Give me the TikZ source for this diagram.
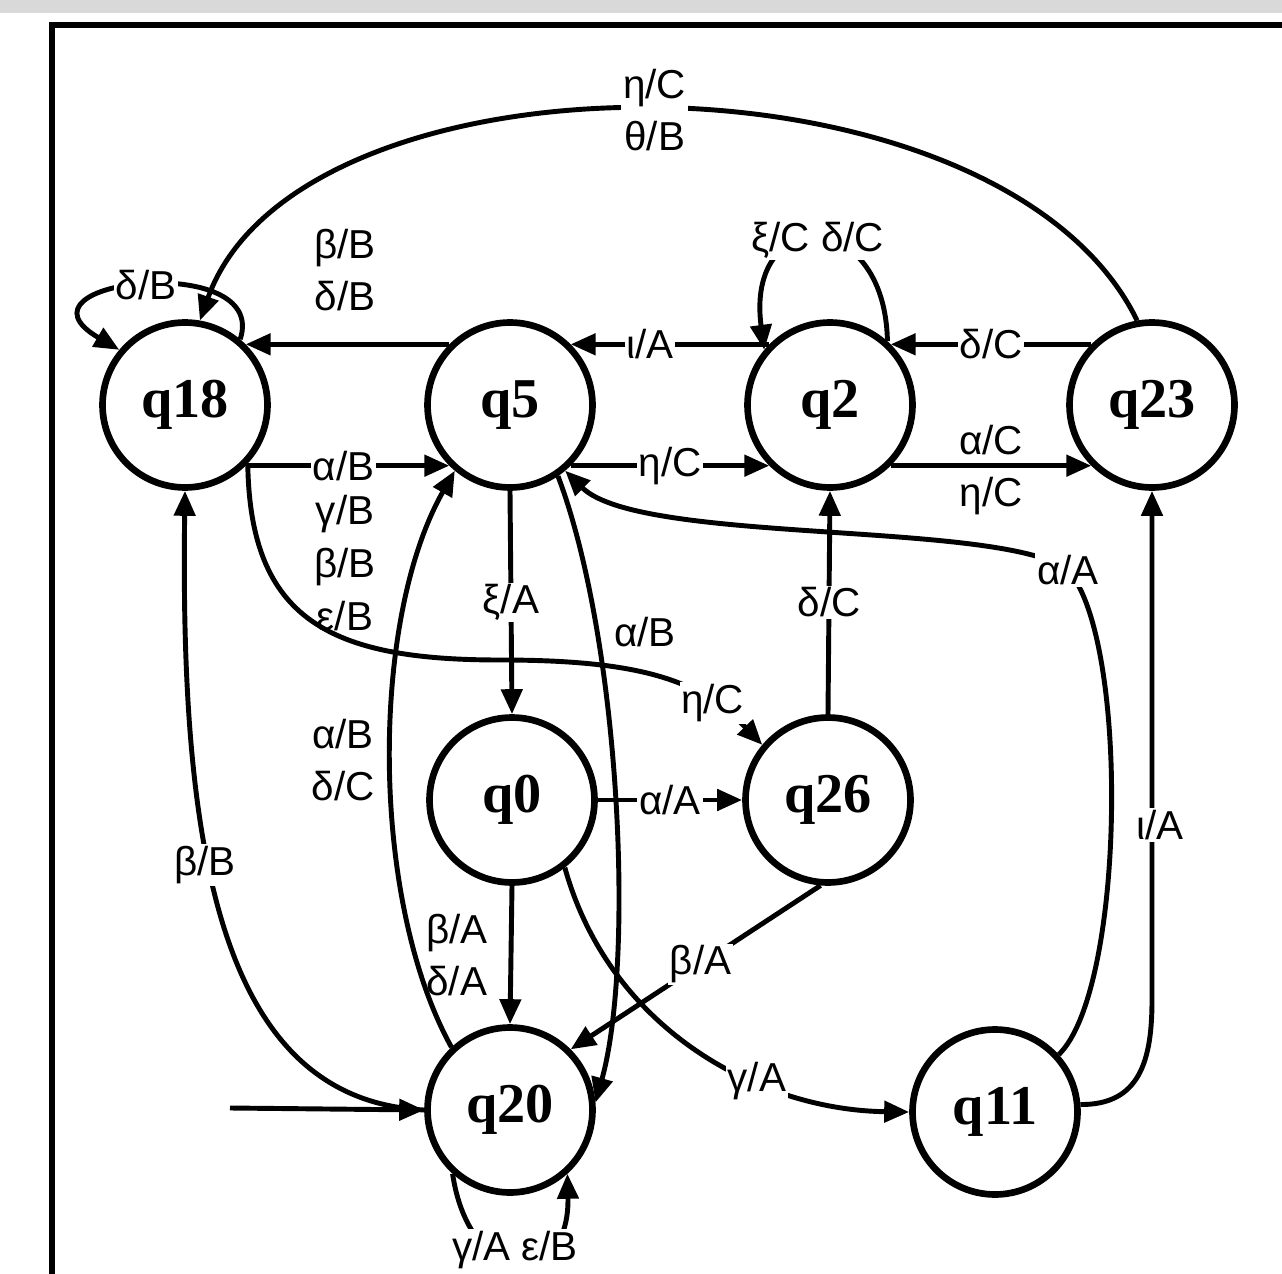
\documentclass[tikz,border=0pt]{standalone}
\usepackage{fontspec}
\setmainfont{Liberation Serif}
\newfontfamily\labfont{Liberation Sans}
\usetikzlibrary{arrows.meta}
\begin{document}
\begin{tikzpicture}[x=0.02cm, y=-0.02cm,
  st/.style={circle, draw, line width=3.8pt, minimum size=3.3cm, inner sep=0pt,
             font=\fontsize{32}{36}\selectfont\bfseries},
  tr/.style={line width=2.8pt, -{Triangle[length=0.5cm,width=0.42cm]}},
  lab/.style={font=\labfont\fontsize{23}{30}\selectfont, inner sep=1pt, align=center},
  cut/.style={lab, fill=white}]
\useasboundingbox (0,0) rectangle (1282,1274);
\fill[gray!30] (0,0) rectangle (1282,13);
\draw[line width=3.5pt] (52,1280) -- (52,25) -- (1290,25);

\node[st] (q18) at (185,405) {q18};
\node[st] (q5)  at (510,405) {q5};
\node[st] (q2)  at (830,405) {q2};
\node[st] (q23) at (1152,405) {q23};
\node[st] (q0)  at (512,800) {q0};
\node[st] (q26) at (828,800) {q26};
\node[st] (q20) at (510,1110) {q20};
\node[st] (q11) at (995,1112) {q11};

% q23 -> q18 top arc
\draw[tr] (q23.100) .. controls (1000,40) and (300,40) .. node[cut] (l1) {η/C\\θ/B} (q18.80);
% q18 self loop
\draw[tr] (q18.50) .. controls (270,250) and (0,280) .. node[cut] (l2) {δ/B} (q18.140);
% q5 -> q18
\draw[tr] (q5.135) -- (q18.45);
\node[lab] (l3) at (345,270) {β/B\\δ/B};
% q18 -> q5
\draw[tr] (q18.-45) -- node[cut,pos=0.48] (l4) {α/B} (q5.-135);
\node[lab] (l4b) at (345,563) {γ/B\\β/B\\ε/B};
% q18 -> q26
\draw[tr] (q18.-43) .. controls (250,620) and (330,660) .. (500,660)
   .. controls (640,660) and (700,680) .. node[cut,pos=0.74] (l5) {η/C} (q26.140);
% q2 -> q5
\draw[tr] (q2.135) -- node[cut,pos=0.6] (l6) {ι/A} (q5.45);
% q2 self loop
\draw[tr] (q2.48) .. controls (885,205) and (745,205) .. node[cut] (l7) {ξ/C δ/C} (q2.140);
% q23 -> q2
\draw[tr] (q23.135) -- node[cut] (l8) {δ/C} (q2.45);
% q5 -> q2
\draw[tr] (q5.-45) -- node[cut] (l9) {η/C} (q2.-135);
% q2 -> q23
\draw[tr] (q2.-45) -- node[lab,above=4pt] (l10a) {α/C} node[lab,below=4pt] (l10b) {η/C} (q23.-135);
% q26 -> q2
\draw[tr] (q26.north) -- node[cut] (l11) {δ/C} (q2.south);
% q11 -> q5
\draw[tr] (q11.42) .. controls (1125,990) and (1130,640) .. (1068,570)
   .. controls (1000,520) and (640,545) .. (q5.-50);
\node[cut] (l12) at (1068,570) {α/A};
% q11 -> q23
\draw[tr] (q11.5) .. controls (1140,1105) and (1152,1060) .. (1152,1000) -- (q23.south);
\node[cut] (l13) at (1160,825) {ι/A};
% q5 -> q0
\draw[tr] (q5.south) -- node[cut] (l14) {ξ/A} (q0.north);
% q20 -> q5
\draw[tr] (q20.133) .. controls (370,900) and (370,620) .. (q5.-130);
\node[lab] (l15) at (343,760) {α/B\\δ/C};
% q5 -> q20
\draw[tr] (q5.-56) .. controls (620,640) and (635,960) .. (q20.5);
\node[lab] (l16) at (645,632) {α/B};
% q0 -> q20
\draw[tr] (q0.south) -- node[lab,left=11pt] (l17) {β/A\\δ/A} (q20.north);
% q0 -> q26
\draw[tr] (q0.east) -- node[cut] (l18) {α/A} (q26.west);
% q26 -> q20
\draw[tr] (q26.-95) -- node[cut,pos=0.48] (l19) {β/A} (q20.45);
% q0 -> q11
\draw[tr] (q0.-52) .. controls (610,1030) and (760,1110) .. node[cut,pos=0.65] (l20) {γ/A} (q11.west);
% initial
\coordinate (init) at (230,1108);
\draw[tr] (init) -- (q20.west);
% q20 -> q18
\draw[tr] (q20.180) .. controls (220,1100) and (180,850) .. (q18.south);
\node[cut] (l22) at (205,865) {β/B};
% q20 self loop
\draw[tr] (q20.-132) .. controls (470,1290) and (570,1290) .. (q20.-48);
\node[cut] (l23) at (515,1250) {γ/A ε/B};
\end{tikzpicture}
\end{document}
